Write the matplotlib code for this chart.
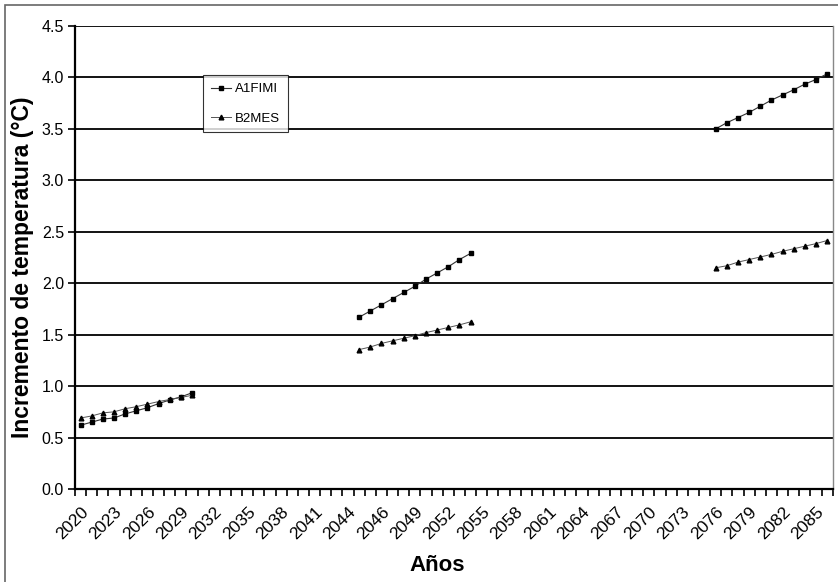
import matplotlib
matplotlib.use("Agg")
import matplotlib.pyplot as plt
import numpy as np

plt.rcParams['font.family'] = ['Liberation Sans', 'DejaVu Sans']

# Category axis (years as shown on the chart)
years = list(range(2020, 2046)) + list(range(2045, 2087))
tick_every = 3

# Series segments: (start category index, values)
a1fimi_segments = [
    (0, [0.62, 0.65, 0.68, 0.69, 0.73, 0.76, 0.79, 0.83, 0.865, 0.895, 0.935]),
    (25, [1.67, 1.73, 1.79, 1.85, 1.91, 1.97, 2.04, 2.10, 2.16, 2.23, 2.29]),
    (57, [3.50, 3.56, 3.61, 3.66, 3.72, 3.78, 3.83, 3.88, 3.935, 3.98, 4.035]),
]
b2mes_segments = [
    (0, [0.69, 0.71, 0.74, 0.75, 0.78, 0.80, 0.825, 0.85, 0.87, 0.89, 0.91]),
    (25, [1.355, 1.38, 1.415, 1.44, 1.465, 1.49, 1.52, 1.545, 1.57, 1.595, 1.625]),
    (57, [2.15, 2.17, 2.205, 2.23, 2.255, 2.28, 2.31, 2.335, 2.36, 2.385, 2.415]),
]
series_names = ["A1FIMI", "B2MES"]
y_ticks = [0.0, 0.5, 1.0, 1.5, 2.0, 2.5, 3.0, 3.5, 4.0, 4.5]

fig = plt.figure(figsize=(8.38, 5.82), dpi=100)
# outer frame
fig.patches.append(plt.Rectangle((5/838, -0.1), 2.0, 1.0 - 5/582 + 0.1,
                                 transform=fig.transFigure, fill=False,
                                 edgecolor='#666666', lw=1.2))
ax = fig.add_axes([75/838, 1 - 489/582, (832.7 - 75)/838, (489 - 26)/582])

n = len(years)
ax.set_xlim(-0.5, n - 0.5)
ax.set_ylim(0, 4.5)

for y in y_ticks[1:]:
    ax.axhline(y, color='black', lw=1.3, zorder=1)

first = True
for (s, vals) in a1fimi_segments:
    x = np.arange(s, s + len(vals))
    ax.plot(x, vals, color='#333333', lw=0.8, marker='s', markersize=3.0,
            markerfacecolor='black', markeredgecolor='black', zorder=3,
            label=series_names[0] if first else None)
    first = False
first = True
for (s, vals) in b2mes_segments:
    x = np.arange(s, s + len(vals))
    ax.plot(x, vals, color='#555555', lw=0.7, marker='^', markersize=3.4,
            markerfacecolor='black', markeredgecolor='black', zorder=3,
            label=series_names[1] if first else None)
    first = False

# axes styling
ax.spines['top'].set_visible(False)
ax.spines['right'].set_color('#888888')
ax.spines['right'].set_linewidth(1.0)
ax.spines['left'].set_linewidth(1.6)
ax.spines['bottom'].set_linewidth(1.6)

ax.set_yticks(y_ticks)
ax.set_yticklabels([f"{v:.1f}" for v in y_ticks], fontsize=11.5)
ax.tick_params(axis='y', direction='out', length=5, width=1.2, pad=3)

# minor ticks between categories, labels at every 3rd category
ax.set_xticks(np.arange(-0.5, n, 1.0), minor=True)
ax.tick_params(axis='x', which='minor', direction='out', length=5, width=1.2)
ticks = list(range(0, n, tick_every))
ax.set_xticks(ticks)
ax.set_xticklabels([str(years[i]) for i in ticks], rotation=45, ha='right',
                   rotation_mode='anchor', fontsize=12.5)
ax.tick_params(axis='x', which='major', length=0, pad=11)

ax.set_ylabel("Incremento de temperatura (°C)", fontsize=16.5, fontweight='bold')
ax.yaxis.set_label_coords(-0.054, 0.478)
ax.set_xlabel("Años", fontsize=16, fontweight='bold')
ax.xaxis.set_label_coords(0.478, -0.142)

leg = ax.legend(loc='upper left', bbox_to_anchor=((203 - 75)/757.7, (489 - 75)/463),
                frameon=True, fancybox=False, edgecolor='black', fontsize=9.5,
                handlelength=1.5, borderpad=0.6, labelspacing=1.3, handletextpad=0.3,
                borderaxespad=0)
leg.get_frame().set_linewidth(0.8)
leg.set_zorder(5)

fig.savefig("out.png", dpi=100)
